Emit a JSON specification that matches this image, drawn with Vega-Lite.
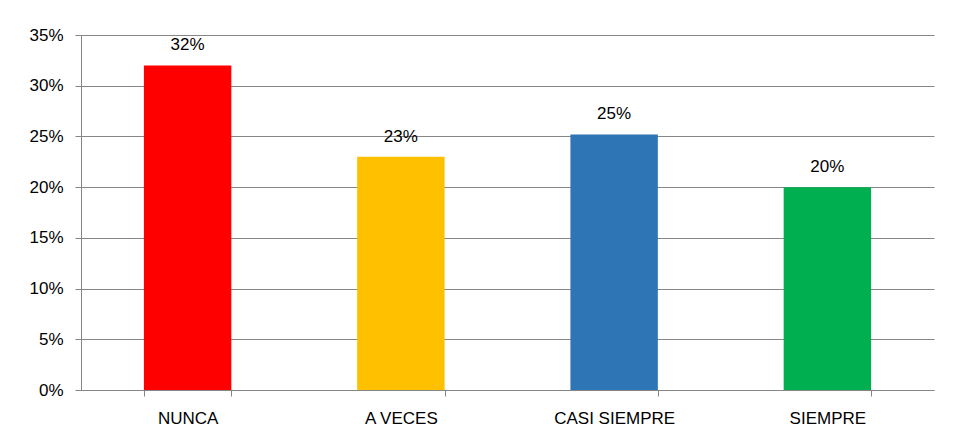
{
  "$schema": "https://vega.github.io/schema/vega-lite/v6.json",
  "width": 853,
  "height": 355,
  "autosize": "none",
  "padding": {"left": 81, "top": 35, "right": 20, "bottom": 54},
  "background": "white",
  "config": {
    "view": {"stroke": null},
    "font": "Liberation Sans",
    "axis": {"labelFont": "Liberation Sans", "labelFontSize": 17, "labelColor": "#000000", "domainColor": "#868686", "tickColor": "#868686", "gridColor": "#868686", "tickSize": 6}
  },
  "data": {
    "values": [
      {"categoria": "NUNCA", "valor": 0.32},
      {"categoria": "A VECES", "valor": 0.23},
      {"categoria": "CASI SIEMPRE", "valor": 0.252},
      {"categoria": "SIEMPRE", "valor": 0.20}
    ]
  },
  "encoding": {
    "x": {
      "field": "categoria", "type": "nominal", "sort": null,
      "scale": {"paddingInner": 0.59, "paddingOuter": 0.295},
      "axis": {"title": null, "labelAngle": 0, "tickBand": "extent", "labelPadding": 14, "grid": false}
    },
    "y": {
      "field": "valor", "type": "quantitative",
      "scale": {"domain": [0, 0.35], "nice": false},
      "axis": {"title": null, "format": ".0%", "values": [0, 0.05, 0.1, 0.15, 0.2, 0.25, 0.3, 0.35], "labelPadding": 12, "grid": true}
    }
  },
  "layer": [
    {
      "mark": {"type": "bar"},
      "encoding": {
        "color": {
          "field": "categoria", "type": "nominal", "legend": null,
          "scale": {"domain": ["NUNCA", "A VECES", "CASI SIEMPRE", "SIEMPRE"], "range": ["#FF0000", "#FFC000", "#2E75B6", "#00B050"]}
        }
      }
    },
    {
      "mark": {"type": "text", "baseline": "alphabetic", "dy": -15, "fontSize": 17, "color": "#000000"},
      "encoding": {"text": {"field": "valor", "type": "quantitative", "format": ".0%"}}
    }
  ]
}
